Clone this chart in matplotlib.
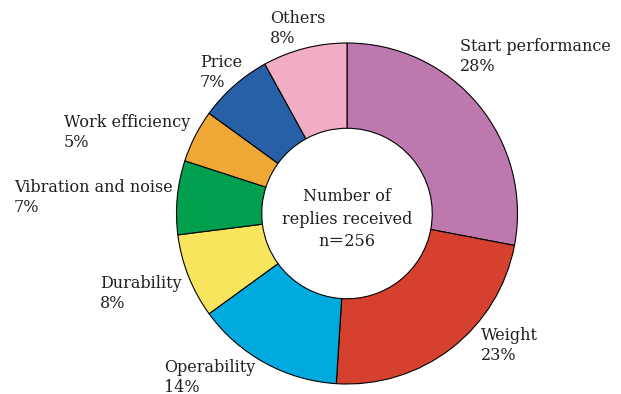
import matplotlib.pyplot as plt

categories = ["Start performance", "Weight", "Operability", "Durability",
              "Vibration and noise", "Work efficiency", "Price", "Others"]
shares = [28, 23, 14, 8, 7, 5, 7, 8]
colors = ["#bd78ae", "#d6402e", "#00aadf", "#f7e65d",
          "#00a04e", "#efa735", "#2760a7", "#f1adc4"]

# label anchors in pixel space (left edge, y of the name line)
label_pos = [(460, 46), (481, 336), (164, 367), (100, 283),
             (14, 187), (64, 122), (200, 62), (270, 18)]

W, H = 621, 394
fig = plt.figure(figsize=(W / 100, H / 100), dpi=100)
ax = fig.add_axes([0, 0, 1, 1])

cx, cy, r = 347, H - 213.5, 170.5
ax.pie(shares, colors=colors, startangle=90, counterclock=False,
       center=(cx, cy), radius=r, frame=True,
       wedgeprops=dict(width=r * 0.5, edgecolor="black", linewidth=0.8))
ax.set_xlim(0, W)
ax.set_ylim(0, H)
ax.set_aspect("equal")
ax.axis("off")

font = dict(family=["DejaVu Serif", "Noto Sans CJK JP"], fontsize=11.5,
            color="#231f20")
for name, pct, (x, y) in zip(categories, shares, label_pos):
    ax.text(x, H - y, name, ha="left", va="center", **font)
    ax.text(x, H - y - 20, f"{pct}%", ha="left", va="center", **font)

ax.text(cx, H - 196, "Number of", ha="center", va="center", **font)
ax.text(cx, H - 219, "replies received", ha="center", va="center", **font)
ax.text(cx, H - 241, "n\uff1d256", ha="center", va="center", **font)

fig.savefig("out.png", dpi=100)
